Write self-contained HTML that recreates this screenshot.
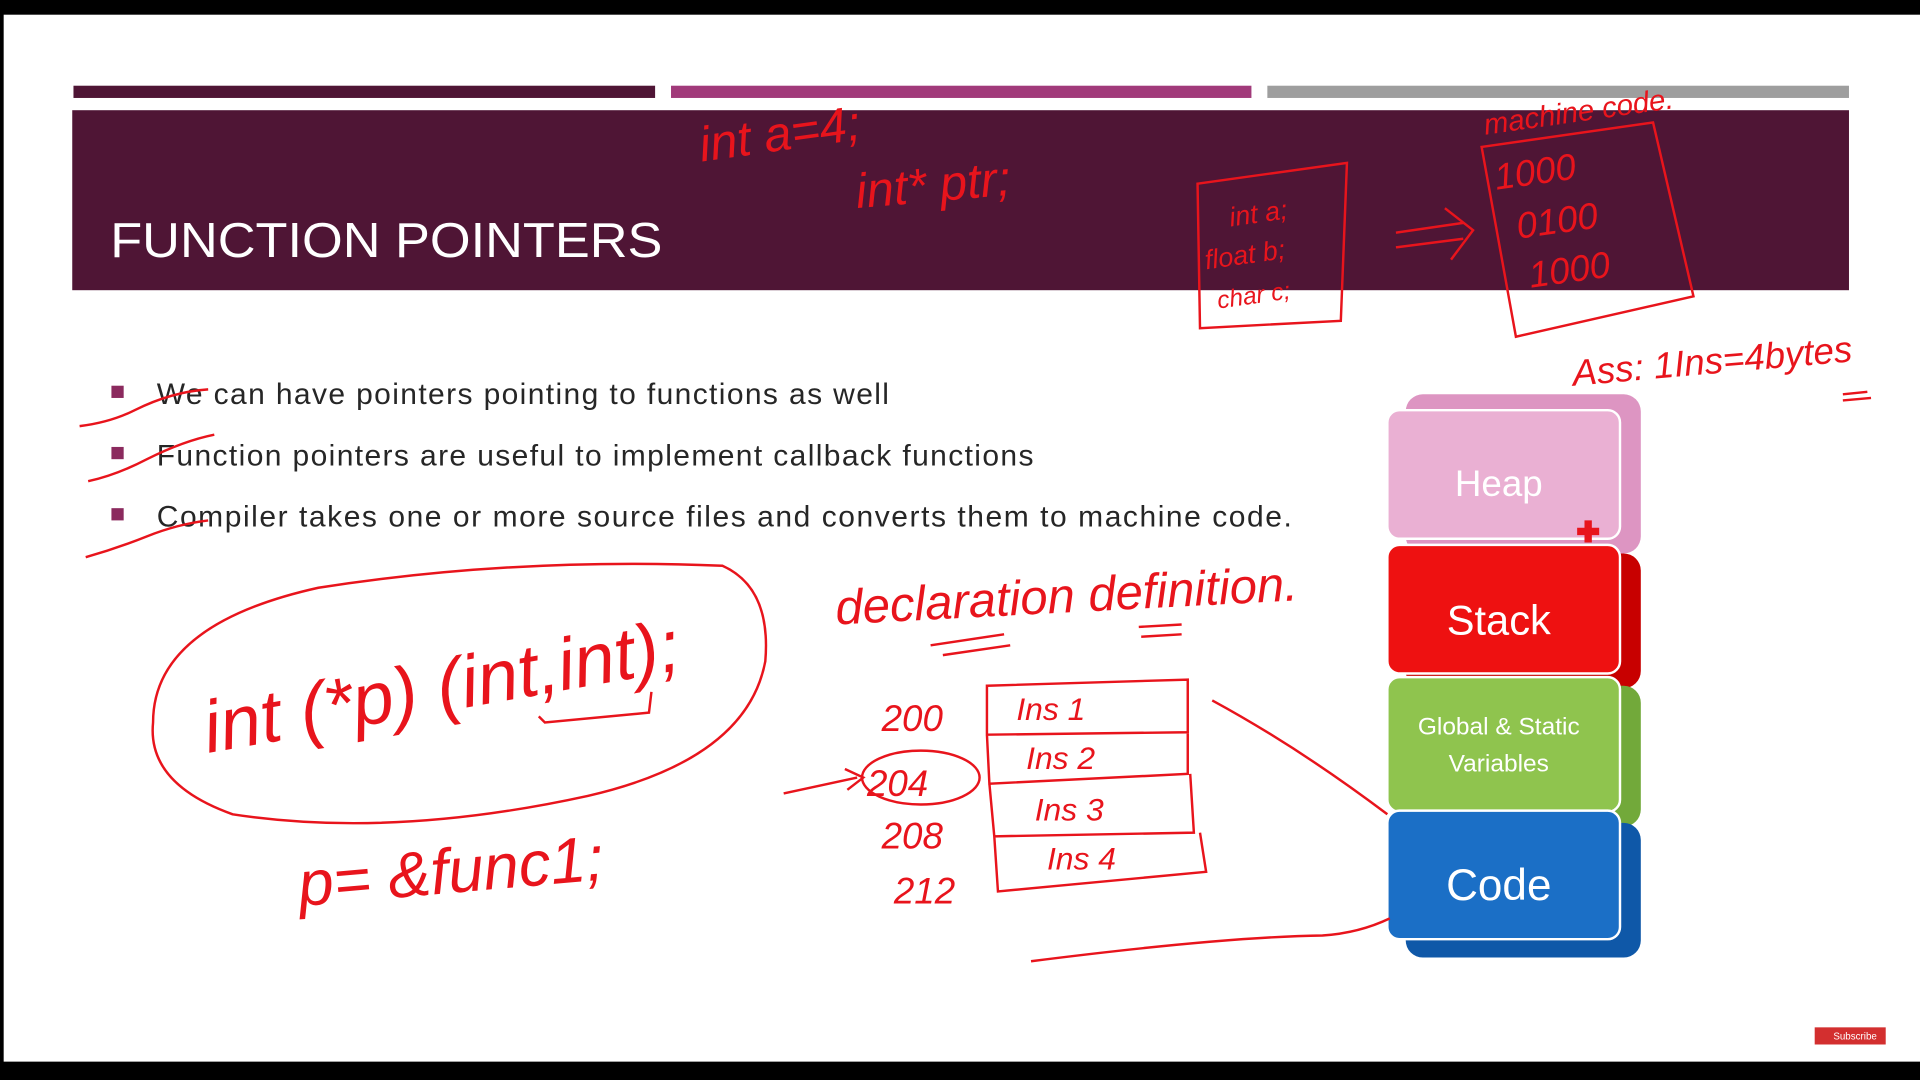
<!DOCTYPE html>
<html><head><meta charset="utf-8"><style>
html,body{margin:0;padding:0;background:#000;width:1920px;height:1080px;overflow:hidden}
svg{display:block}
.hw{font-family:"Liberation Sans",sans-serif;fill:#e8141c;font-style:italic}
</style></head><body>
<svg width="1920" height="1080" viewBox="0 0 1568 882">
<rect x="0" y="0" width="1568" height="882" fill="#000"/>
<rect x="3" y="12" width="1565" height="855" fill="#fff"/>
<rect x="60" y="70" width="475" height="10" fill="#4f1535"/>
<rect x="548" y="70" width="474" height="10" fill="#a13a7a"/>
<rect x="1035" y="70" width="475" height="10" fill="#9e9e9e"/>
<rect x="59" y="90" width="1451" height="147" fill="#4f1535"/>
<text x="90" y="210" font-family="Liberation Sans,sans-serif" font-size="40" fill="#fff" textLength="451" lengthAdjust="spacingAndGlyphs">FUNCTION POINTERS</text>
<g font-family="Liberation Sans,sans-serif" font-size="24.5" fill="#262626" lengthAdjust="spacingAndGlyphs">
<rect x="91" y="315" width="10" height="10" fill="#8b2a5e"/><text x="128" y="330" textLength="598">We can have pointers pointing to functions as well</text>
<rect x="91" y="365" width="10" height="10" fill="#8b2a5e"/><text x="128" y="380" textLength="716">Function pointers are useful to implement callback functions</text>
<rect x="91" y="415" width="10" height="10" fill="#8b2a5e"/><text x="128" y="430" textLength="927">Compiler takes one or more source files and converts them to machine code.</text>
</g>
<!-- memory blocks -->
<g font-family="Liberation Sans,sans-serif" text-anchor="middle" fill="#fff">
<rect x="1148" y="322" width="192" height="130" rx="14" fill="#dd95c2"/>
<rect x="1133" y="335" width="190" height="105" rx="10" fill="#eab0d3" stroke="#fff" stroke-width="2"/>
<text x="1224" y="405" font-size="30">Heap</text>
<rect x="1148" y="452" width="192" height="110" rx="14" fill="#c80000"/>
<rect x="1133" y="445" width="190" height="105" rx="10" fill="#ee1111" stroke="#fff" stroke-width="2"/>
<text x="1224" y="518" font-size="34">Stack</text>
<rect x="1148" y="560" width="192" height="115" rx="14" fill="#72a93a"/>
<rect x="1133" y="553" width="190" height="110" rx="10" fill="#8fc44e" stroke="#fff" stroke-width="2"/>
<text x="1224" y="600" font-size="20">Global &amp; Static</text>
<text x="1224" y="630" font-size="20">Variables</text>
<rect x="1148" y="672" width="192" height="110" rx="14" fill="#0f58a8"/>
<rect x="1133" y="662" width="190" height="105" rx="10" fill="#1b6fc6" stroke="#fff" stroke-width="2"/>
<text x="1224" y="735" font-size="36">Code</text>
</g>
<path d="M1297 425 v18 M1288 434 h18" stroke="#e8141c" stroke-width="6"/>
<!-- handwriting -->
<g stroke="#e8141c" stroke-width="2" fill="none">
<path d="M65 348 Q90 345 110 335 Q140 320 170 318"/>
<path d="M72 393 Q95 388 120 375 Q150 360 175 355"/>
<path d="M70 455 Q95 448 120 438 Q145 428 170 425"/>
<path d="M125 590 Q125 510 260 480 Q420 455 590 462 Q630 480 625 540 Q610 620 480 650 Q320 685 190 665 Q120 640 125 590Z"/>
<path d="M440 585 L445 590 L530 582 L532 565"/>
<path d="M760 527 L820 518 M770 535 L825 527 M930 512 L965 510 M932 520 L965 518"/>
<path d="M806 560 L970 555 L970 598 L806 600 Z M806 600 L808 640 L970 632 L970 598 M808 640 L812 683 L975 680 L972 632 M812 683 L815 728 L985 712 L980 680"/>
<path d="M640 648 L700 635 M690 628 L705 635 L692 645"/>
<ellipse cx="752" cy="635" rx="48" ry="22"/>
<path d="M990 572 Q1060 610 1133 665"/>
<path d="M842 785 Q1000 765 1080 764 Q1110 762 1135 750"/>
<path d="M978 150 L1100 133 L1095 262 L980 268 Z"/>
<path d="M1140 190 L1195 182 M1140 202 L1195 195 M1180 170 L1203 188 L1185 212"/>
<path d="M1210 120 L1350 100 L1383 242 L1238 275 Z"/>
<path d="M1505 322 L1525 320 M1505 327 L1528 325"/>
</g>
<g class="hw">
<text x="573" y="132" font-size="40" transform="rotate(-8 573 132)">int a=4;</text>
<text x="700" y="170" font-size="40" transform="rotate(-5 700 170)">int* ptr;</text>
<text x="1213" y="110" font-size="24" transform="rotate(-8 1213 110)">machine code.</text>
<text x="1222" y="155" font-size="30" transform="rotate(-8 1222 155)">1000</text>
<text x="1240" y="195" font-size="30" transform="rotate(-8 1240 195)">0100</text>
<text x="1250" y="235" font-size="30" transform="rotate(-8 1250 235)">1000</text>
<text x="1005" y="185" font-size="22" transform="rotate(-8 1005 185)">int a;</text>
<text x="985" y="220" font-size="22" transform="rotate(-8 985 220)">float b;</text>
<text x="995" y="252" font-size="20" transform="rotate(-8 995 252)">char c;</text>
<text x="1285" y="315" font-size="30" transform="rotate(-5 1285 315)">Ass: 1Ins=4bytes</text>
<text x="170" y="615" font-size="60" transform="rotate(-10 170 615)">int (*p) (int,int);</text>
<text x="683" y="510" font-size="40" transform="rotate(-3 683 510)">declaration definition.</text>
<text x="720" y="597" font-size="30">200</text>
<text x="708" y="650" font-size="30">204</text>
<text x="720" y="693" font-size="30">208</text>
<text x="730" y="738" font-size="30">212</text>
<text x="830" y="588" font-size="26">Ins 1</text>
<text x="838" y="628" font-size="26">Ins 2</text>
<text x="845" y="670" font-size="26">Ins 3</text>
<text x="855" y="710" font-size="26">Ins 4</text>
<text x="245" y="740" font-size="52" transform="rotate(-5 245 740)">p= &amp;func1;</text>
</g>
<rect x="1482" y="839" width="58" height="14" fill="#d32f2f"/>
<text x="1515" y="849" font-family="Liberation Sans,sans-serif" font-size="8" fill="#fff" text-anchor="middle">Subscribe</text>
</svg>
</body></html>
